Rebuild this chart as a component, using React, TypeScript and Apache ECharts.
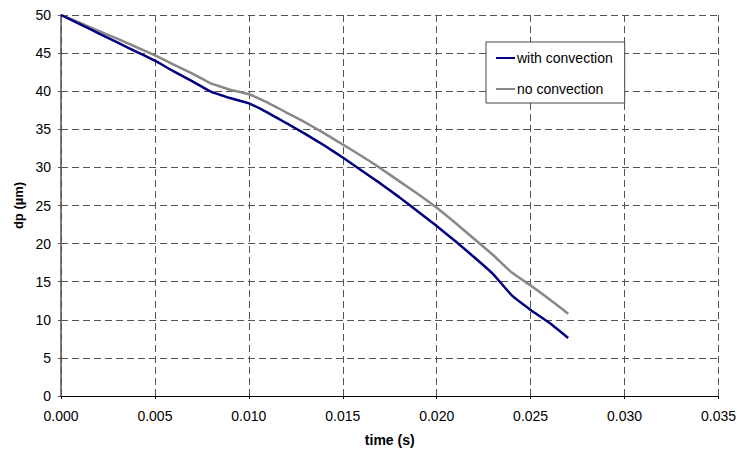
import React, { useEffect, useRef } from "react";
import * as echarts from "echarts";

const times = [0, 0.001, 0.002, 0.003, 0.004, 0.005, 0.006, 0.007, 0.008, 0.0085, 0.009, 0.010, 0.011, 0.012, 0.013, 0.014, 0.015, 0.016, 0.017, 0.018, 0.019, 0.020, 0.021, 0.022, 0.023, 0.024, 0.025, 0.026, 0.027];
const withConvection = [50, 48.8, 47.6, 46.4, 45.2, 44.0, 42.6, 41.3, 39.9, 39.5, 39.1, 38.4, 37.2, 35.8, 34.4, 32.9, 31.3, 29.6, 27.9, 26.1, 24.2, 22.3, 20.3, 18.2, 16.0, 13.2, 11.3, 9.6, 7.6];
const noConvection = [50, 49.0, 47.9, 46.9, 45.8, 44.7, 43.5, 42.3, 41.0, 40.6, 40.2, 39.6, 38.5, 37.2, 35.9, 34.5, 33.0, 31.5, 29.9, 28.2, 26.5, 24.7, 22.7, 20.6, 18.5, 16.2, 14.5, 12.7, 10.8];

const seriesNames = ["with convection", "no convection"];
const xTitle = "time (s)";
const yTitle = "dp (µm)";

export default function App() {
  const ref = useRef<HTMLDivElement>(null);
  useEffect(() => {
    if (!ref.current) return;
    const chart = echarts.init(ref.current, null, { renderer: "svg" });
    const font = "Liberation Sans, Arial, sans-serif";
    const gridLine = { show: true, lineStyle: { color: "#555", type: [7, 4] as any, width: 1 } };
    chart.setOption({
      animation: false,
      textStyle: { fontFamily: font },
      grid: { left: 61, right: 18, top: 15, bottom: 54, containLabel: false },
      legend: {
        data: seriesNames,
        orient: "vertical",
        left: 486,
        top: 42,
        itemWidth: 19,
        itemHeight: 2,
        itemGap: 17,
        padding: [9, 12, 7, 10],
        backgroundColor: "#fff",
        borderColor: "#444",
        borderWidth: 1,
        icon: "rect",
        textStyle: { fontFamily: font, fontSize: 14, color: "#000", padding: [0, 0, 0, -3] },
      },
      xAxis: {
        type: "value",
        min: 0,
        max: 0.035,
        interval: 0.005,
        name: xTitle,
        nameLocation: "middle",
        nameGap: 37,
        nameTextStyle: { fontFamily: font, fontSize: 14, fontWeight: "bold", color: "#000" },
        axisLine: { show: true, onZero: false, lineStyle: { color: "#000", width: 1 } },
        axisTick: { show: true, length: 3, lineStyle: { color: "#000" } },
        axisLabel: { fontFamily: font, fontSize: 14, color: "#000", margin: 13, formatter: (v: number) => v.toFixed(3) },
        splitLine: gridLine,
      },
      yAxis: {
        type: "value",
        min: 0,
        max: 50,
        interval: 5,
        name: yTitle,
        nameLocation: "middle",
        nameGap: 35,
        nameTextStyle: { fontFamily: font, fontSize: 13, fontWeight: "bold", color: "#000" },
        axisLine: { show: true, onZero: false, lineStyle: { color: "#555", width: 1.5 } },
        axisTick: { show: true, length: 3, lineStyle: { color: "#555" } },
        axisLabel: { fontFamily: font, fontSize: 14, color: "#000", margin: 10 },
        splitLine: gridLine,
      },
      series: [
        {
          name: seriesNames[0],
          type: "line",
          data: times.map((t, i) => [t, withConvection[i]]),
          showSymbol: false,
          smooth: 0.15,
          lineStyle: { color: "#000080", width: 2.5 },
          itemStyle: { color: "#000080" },
          z: 3,
        },
        {
          name: seriesNames[1],
          type: "line",
          data: times.map((t, i) => [t, noConvection[i]]),
          showSymbol: false,
          smooth: 0.15,
          lineStyle: { color: "#888888", width: 2.5 },
          itemStyle: { color: "#888888" },
          z: 2,
        },
      ],
    });
    return () => chart.dispose();
  }, []);
  return <div ref={ref} style={{ width: 739, height: 452, position: "absolute", left: 0, top: 0 }} />;
}
